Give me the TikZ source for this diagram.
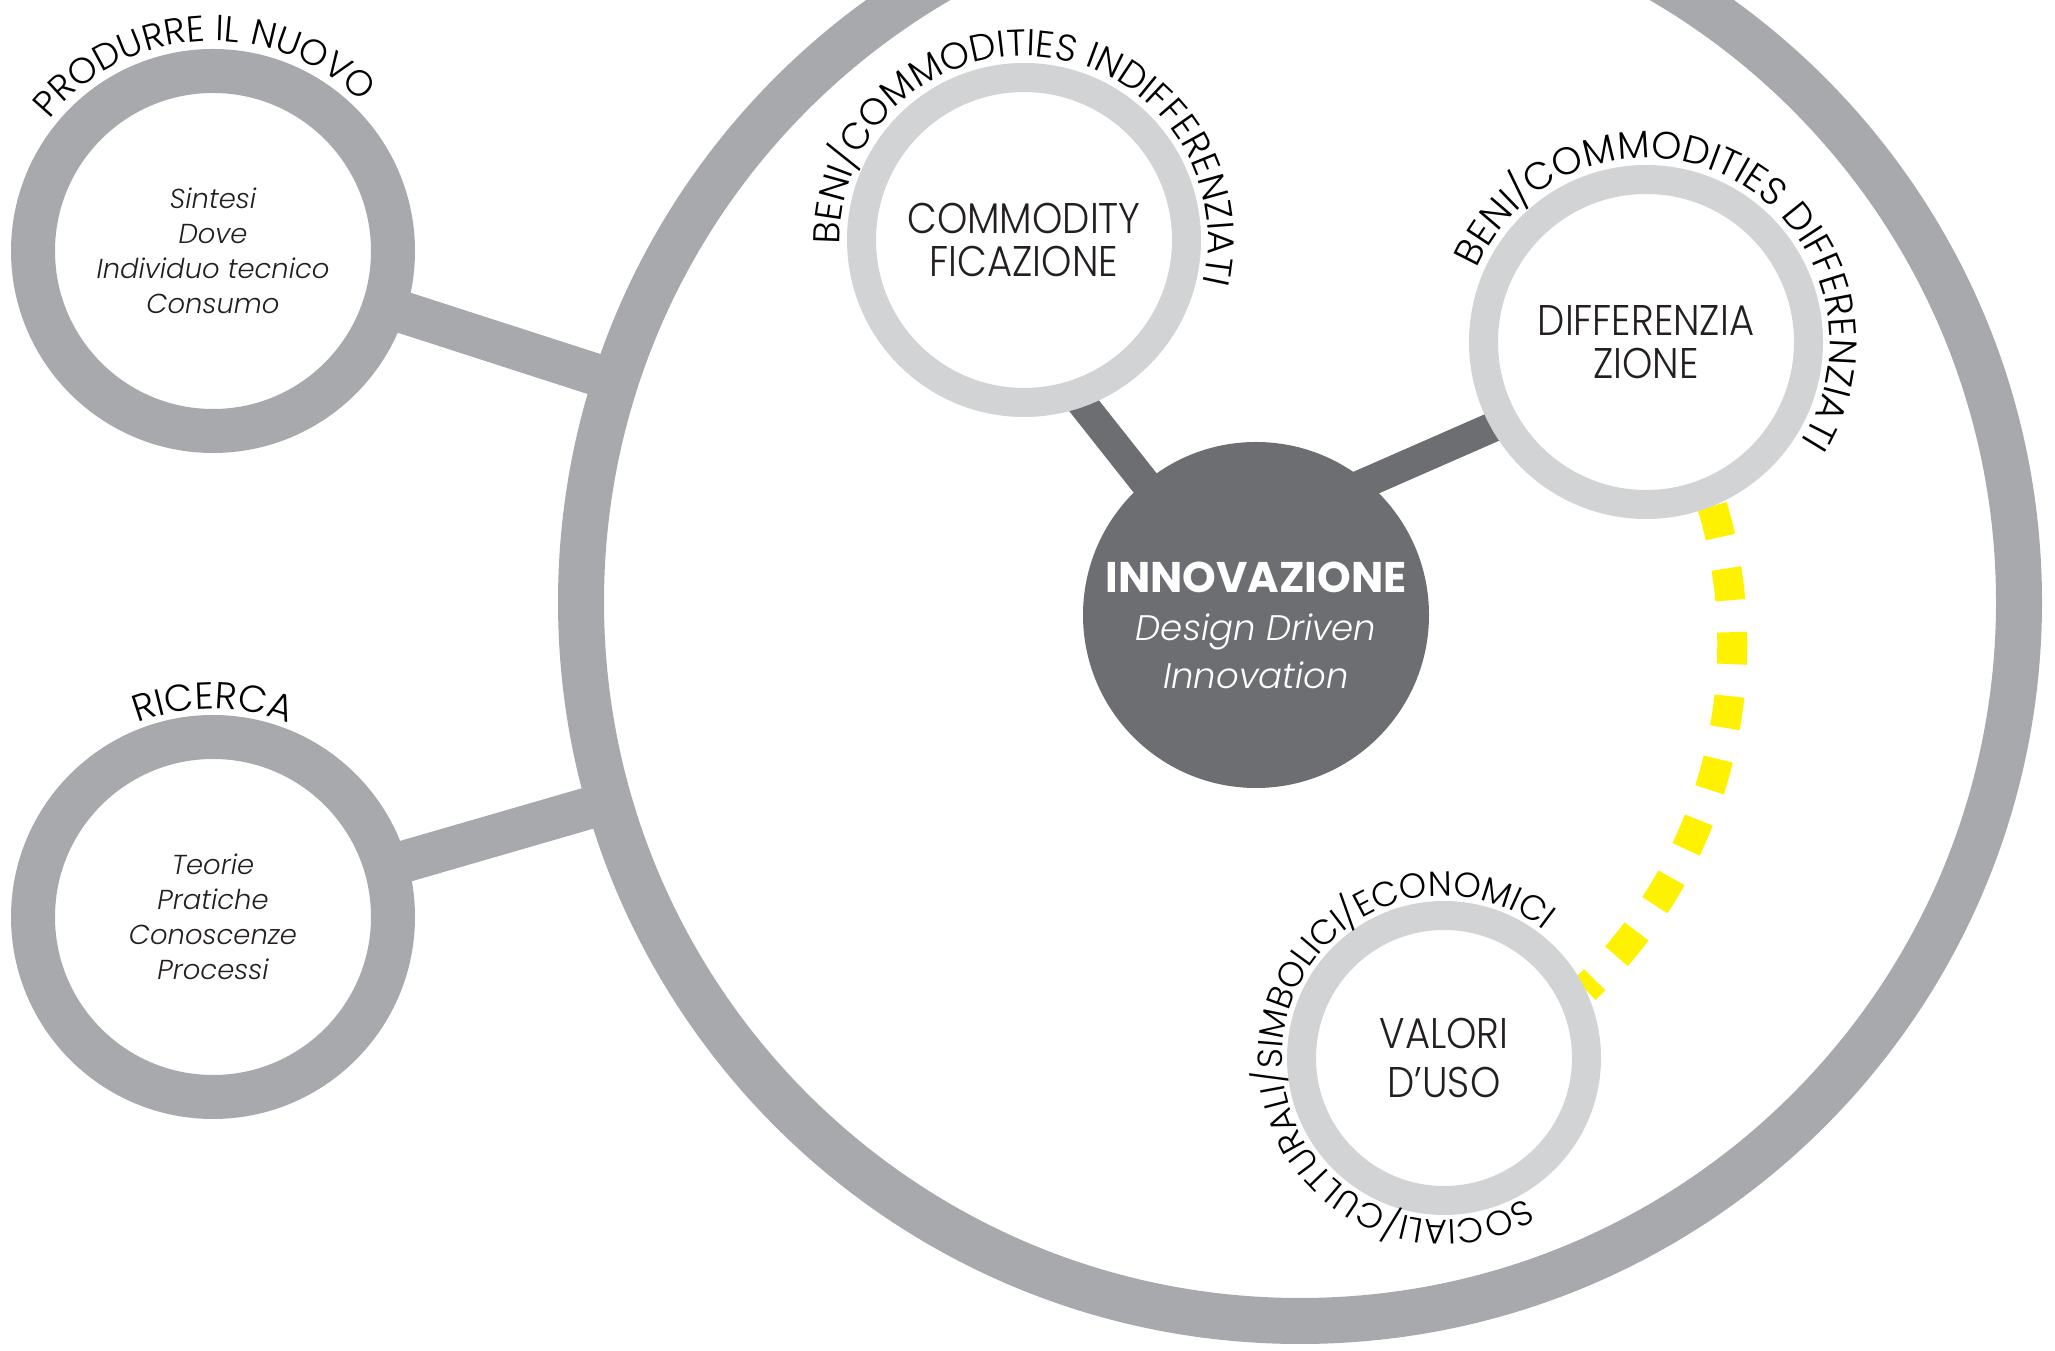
\documentclass[tikz,border=0pt]{standalone}
\usepackage{fontspec}
\setmainfont{Poppins}
\newfontfamily\capsfont{Poppins Light}[FakeStretch=0.9]
\newfontfamily\arcfamily{Poppins Light}
\newfontfamily\slantfont{Poppins Light Italic}
\usetikzlibrary{decorations.text}

\definecolor{ringgrey}{HTML}{A7A9AC}
\definecolor{ringlight}{HTML}{D1D3D4}
\definecolor{coregrey}{HTML}{6D6E71}
\definecolor{linkyellow}{HTML}{FFF200}
\definecolor{ink}{HTML}{231F20}

\pgfdeclarelayer{back}
\pgfsetlayers{back,main}

\begin{document}
\begin{tikzpicture}[
    ring/.style={circle, draw=ringgrey, line width=0.44cm, fill=white, minimum size=3.6cm, inner sep=0pt,
      align=center, text=ink, font=\slantfont\fontsize{7.8}{9.96}\selectfont},
    bigring/.style={circle, draw=ringgrey, line width=0.46cm, minimum size=14.38cm, inner sep=0pt},
    lightring/.style={circle, draw=ringlight, line width=0.29cm, fill=white, minimum size=3.25cm, inner sep=0pt,
      align=center, text=ink, font=\capsfont\fontsize{12.2}{12.2}\selectfont},
    core/.style={circle, fill=coregrey, minimum size=3.46cm, inner sep=0pt, align=center, text=white,
      font=\fontsize{12.2}{13.6}\selectfont},
    greyband/.style={draw=ringgrey, line width=0.42cm, shorten <=-0.15cm, shorten >=-0.15cm},
    darkband/.style={draw=coregrey, line width=0.30cm, shorten <=-0.15cm, shorten >=-0.3cm},
    yellowdash/.style={draw=linkyellow, line width=0.30cm, dash pattern=on 0.32cm off 0.32cm},
    arctext/.style 2 args={decorate, decoration={text along path, text align=center,
      text={|\arcfamily\fontsize{#1}{12}\selectfont|#2}}}
  ]
  \useasboundingbox (0,0) rectangle (20.55,13.51);
  \clip (0,0) rectangle (20.55,13.51);

  % circles
  \node[bigring] (big) at (13.00,7.49) {};
  \node[ring] (prod) at (2.13,11.00) {Sintesi\\Dove\\Individuo tecnico\\Consumo};
  \node[ring] (ric) at (2.13,4.34) {Teorie\\Pratiche\\Conoscenze\\Processi};
  \node[lightring] (comm) at (10.24,11.11) {COMMODITY\\FICAZIONE};
  \node[lightring] (diff) at (16.46,10.09) {DIFFERENZIA\\ZIONE};
  \node[lightring, minimum size=2.85cm, font=\capsfont\fontsize{12.2}{13.7}\selectfont] (val) at (14.44,2.93) {VALORI\\D’USO};
  \node[core] (innov) at (12.56,7.36) {{\rule{0pt}{14.5pt}\bfseries INNOVAZIONE}\\
    {\slantfont\fontsize{10.1}{13.6}\selectfont Design Driven}\\
    {\slantfont\fontsize{10.1}{13.6}\selectfont Innovation}};

  % links
  \begin{pgfonlayer}{back}
    \draw[greyband] (prod) -- (big);
    \draw[greyband] (ric) -- (big);
    \draw[darkband] (innov.130) -- (comm.-70);
    \draw[darkband] (innov.50) -- (diff.209);
    \draw[yellowdash] (diff.-68) to[out=-73.5, in=43.7, looseness=0.92] (val.26.5);
  \end{pgfonlayer}

  % curved labels
  \path[arctext={10.3}{PRODURRE IL NUOVO}] (prod.center) ++(163:2.10) arc[start angle=163, end angle=23, radius=2.10];
  \path[arctext={10.7}{RICERCA}] (ric.center) ++(150:2.08) arc[start angle=150, end angle=30, radius=2.08];
  \path[arctext={10.6}{BENI/COMMODITIES INDIFFERENZIATI}] (comm.center) ++(194:1.84) arc[start angle=194, end angle=-26, radius=1.84];
  \path[arctext={10.9}{BENI/COMMODITIES DIFFERENZIATI}] (diff.center) ++(172:1.84) arc[start angle=172, end angle=-48, radius=1.84];
  \path[arctext={9.9}{SOCIALI/CULTURALI/SIMBOLICI/ECONOMICI}] (val.center) ++(-49:1.62) arc[start angle=-49, end angle=-319, radius=1.62];
\end{tikzpicture}
\end{document}
